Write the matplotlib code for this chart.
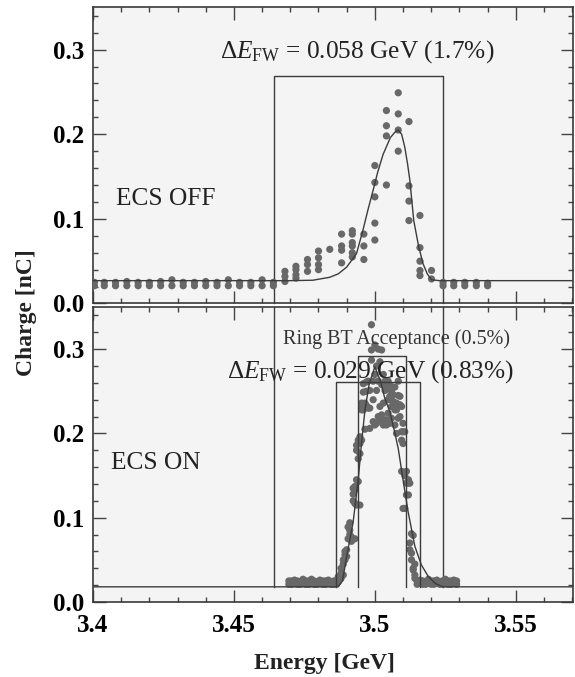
import matplotlib
matplotlib.use("Agg")
import matplotlib.pyplot as plt
from matplotlib.ticker import FixedLocator, MultipleLocator

plt.rcParams['font.family'] = ['Liberation Serif', 'DejaVu Serif']
plt.rcParams['mathtext.fontset'] = 'custom'
plt.rcParams['mathtext.rm'] = 'Liberation Serif'
plt.rcParams['mathtext.it'] = 'Liberation Serif:italic'
plt.rcParams['mathtext.bf'] = 'Liberation Serif:bold'

# ---------------- data ----------------
x_ticks = [3.40, 3.45, 3.50, 3.55]
x_tick_labels = ["3.4", "3.45", "3.5", "3.55"]
y_ticks = [0.0, 0.1, 0.2, 0.3]
y_tick_labels = ["0.0", "0.1", "0.2", "0.3"]

# ECS OFF measured charge: energy columns and charges at each column
off_energy = [3.4005, 3.4040, 3.4080, 3.4120, 3.4160, 3.4200, 3.4240, 3.4280,
              3.4320, 3.4360, 3.4400, 3.4440, 3.4480, 3.4520, 3.4560, 3.4600,
              3.4640, 3.4681, 3.4720, 3.4761, 3.4800, 3.4840, 3.4882, 3.4920,
              3.4961, 3.5000, 3.5041, 3.5083, 3.5121, 3.5160, 3.5201, 3.5242,
              3.5280, 3.5319, 3.5360, 3.5400]
off_charge = [[0.021, 0.025], [0.021, 0.025], [0.021, 0.025], [0.021, 0.026],
              [0.021, 0.025], [0.021, 0.025], [0.021, 0.026], [0.021, 0.028],
              [0.021, 0.025], [0.021, 0.025], [0.021, 0.026], [0.021, 0.025],
              [0.021, 0.028], [0.021, 0.025], [0.021, 0.025], [0.021, 0.028],
              [0.021, 0.025], [0.026, 0.032, 0.038], [0.030, 0.034, 0.040, 0.044],
              [0.038, 0.046, 0.052], [0.040, 0.046, 0.054, 0.062], [0.064],
              [0.048, 0.063, 0.068, 0.082], [0.055, 0.060, 0.068, 0.072, 0.082, 0.086],
              [0.052, 0.068, 0.082], [0.075, 0.095, 0.126, 0.143, 0.163],
              [0.140, 0.198, 0.210, 0.228], [0.180, 0.205, 0.224, 0.249],
              [0.098, 0.121, 0.139, 0.215], [0.033, 0.039, 0.050, 0.066, 0.104],
              [0.029, 0.039], [0.021, 0.025], [0.021, 0.025], [0.021, 0.025],
              [0.021, 0.025], [0.021, 0.024]]

# ECS OFF fitted curve
off_fit_energy = [3.400, 3.470, 3.478, 3.484, 3.487, 3.490, 3.4935, 3.4958,
                  3.4975, 3.4994, 3.5010, 3.5029, 3.5055, 3.5070, 3.5083,
                  3.5095, 3.5106, 3.5116, 3.5124, 3.5138, 3.5155, 3.5171,
                  3.5186, 3.5201, 3.5230, 3.570]
off_fit_charge = [0.027, 0.027, 0.0275, 0.031, 0.035, 0.043, 0.059, 0.087,
                  0.110, 0.134, 0.155, 0.176, 0.196, 0.202, 0.205,
                  0.200, 0.185, 0.165, 0.146, 0.098, 0.068, 0.047,
                  0.035, 0.028, 0.027, 0.027]

# ECS ON measured charge
on_energy = [3.4695, 3.4705, 3.4715, 3.4725, 3.4735, 3.4745, 3.4755, 3.4765,
             3.4775, 3.4785, 3.4795, 3.4805, 3.4815, 3.4825, 3.4835, 3.4845,
             3.4855, 3.4865,
             3.4870, 3.4880, 3.4888, 3.4894, 3.4900, 3.4905, 3.4911, 3.4917,
             3.4923, 3.4929, 3.4935, 3.4941, 3.4947, 3.4953, 3.4959,
             3.4965, 3.4970, 3.4976, 3.4982, 3.4988, 3.4994, 3.5000, 3.5006,
             3.5012, 3.5018, 3.5024, 3.5030, 3.5036, 3.5041, 3.5047, 3.5053,
             3.5059, 3.5065, 3.5071, 3.5077, 3.5083, 3.5089, 3.5095, 3.5100,
             3.5106, 3.5112, 3.5119, 3.5124, 3.5130, 3.5136, 3.5142,
             3.5150, 3.5160, 3.5170, 3.5180, 3.5190, 3.5200, 3.5210, 3.5220,
             3.5230, 3.5240, 3.5250, 3.5260, 3.5270, 3.5280, 3.5290]
on_charge = [[0.021, 0.025], [0.021, 0.025], [0.022, 0.026], [0.021, 0.025],
             [0.021, 0.024], [0.022, 0.027], [0.021, 0.025], [0.021, 0.025],
             [0.022, 0.027], [0.021, 0.025], [0.021, 0.024], [0.022, 0.026],
             [0.021, 0.025], [0.021, 0.025], [0.022, 0.026], [0.021, 0.024],
             [0.021, 0.025], [0.022, 0.026],
             [0.024, 0.030], [0.028, 0.034, 0.040], [0.032, 0.045, 0.050],
             [0.050, 0.056, 0.060], [0.054, 0.062], [0.075, 0.089],
             [0.080, 0.085, 0.094], [0.072, 0.077], [0.120, 0.128, 0.135],
             [0.075, 0.117, 0.133, 0.137], [0.115, 0.145, 0.180, 0.186],
             [0.143, 0.170, 0.192], [0.115, 0.176, 0.188, 0.196],
             [0.192, 0.228, 0.232, 0.236], [0.228, 0.249, 0.259],
             [0.205, 0.236], [0.233, 0.250, 0.261], [0.230, 0.262],
             [0.206, 0.230, 0.251], [0.287, 0.299, 0.329], [0.214, 0.240, 0.262],
             [0.210, 0.270, 0.305], [0.212, 0.251, 0.280], [0.220, 0.262, 0.300],
             [0.216, 0.232, 0.285], [0.222, 0.258, 0.299], [0.210, 0.236, 0.270],
             [0.216, 0.251, 0.262], [0.210, 0.216, 0.255],
             [0.224, 0.240, 0.262], [0.212, 0.244, 0.258], [0.218, 0.232, 0.250],
             [0.232, 0.238, 0.246], [0.210, 0.228, 0.255], [0.200, 0.228, 0.236],
             [0.218, 0.245, 0.262], [0.220, 0.234, 0.244], [0.155, 0.192, 0.202, 0.232],
             [0.111, 0.188, 0.202, 0.212], [0.111, 0.150, 0.202], [0.127, 0.141, 0.155],
             [0.127, 0.141, 0.145], [0.062, 0.070, 0.141], [0.050, 0.058, 0.081],
             [0.038, 0.040, 0.079], [0.028, 0.032, 0.045],
             [0.021, 0.025], [0.022, 0.026], [0.021, 0.025], [0.021, 0.024],
             [0.022, 0.027], [0.021, 0.025], [0.021, 0.025], [0.022, 0.026],
             [0.021, 0.024], [0.021, 0.025], [0.022, 0.027], [0.021, 0.025],
             [0.021, 0.025], [0.022, 0.026], [0.021, 0.025]]

# ECS ON fitted curve
on_fit_energy = [3.400, 3.4870, 3.4885, 3.4900, 3.4923, 3.4941, 3.4953, 3.4965,
                 3.4980, 3.5000, 3.5020, 3.5035, 3.5053, 3.5070, 3.5083,
                 3.5100, 3.5118, 3.5142, 3.5165, 3.5190, 3.5215, 3.5240, 3.570]
on_fit_charge = [0.018, 0.018, 0.025, 0.054, 0.095, 0.145, 0.190, 0.228,
                 0.259, 0.279, 0.262, 0.242, 0.226, 0.202, 0.182,
                 0.145, 0.107, 0.066, 0.044, 0.030, 0.022, 0.018, 0.018]

# annotation values
off_fw = [3.4641, 3.5242]
off_fw_bar = 0.269
on_fw = [3.4862, 3.5160]
on_fw_bar = 0.261
ring_bt = [3.4941, 3.5111]
ring_bt_bar = 0.292
on_base = 0.018

# ---------------- figure ----------------
W, H = 575, 677
fig = plt.figure(figsize=(W / 100, H / 100), dpi=100)
fig.patch.set_facecolor('white')

left = 93 / W
width = (573 - 93) / W
ax1 = fig.add_axes([left, 1 - 303.5 / H, width, (303.5 - 7.3) / H])
ax2 = fig.add_axes([left, 1 - 602 / H, width, (602 - 307) / H])

line_col = '#3c3c3c'
dot_col = '#686868'
tick_fs = 18
txt_fs = 18.3

for ax in (ax1, ax2):
    ax.set_facecolor('#f4f4f4')
    ax.set_xlim(3.4, 3.5703)
    ax.set_ylim(0, 0.35)
    ax.xaxis.set_major_locator(FixedLocator(x_ticks))
    ax.xaxis.set_minor_locator(MultipleLocator(0.01))
    ax.yaxis.set_major_locator(FixedLocator(y_ticks))
    ax.yaxis.set_minor_locator(MultipleLocator(0.02))
    ax.set_yticklabels(y_tick_labels, fontsize=tick_fs, fontweight='bold')
    ax.tick_params(which='both', direction='in', top=True, right=True,
                   color='#444444', width=1.0)
    ax.tick_params(which='major', length=9)
    ax.tick_params(which='minor', length=3.5)
    ax.tick_params(axis='y', pad=6.5)
    for s in ax.spines.values():
        s.set_color('#3a3a3a')
        s.set_linewidth(1.2)

ax1.set_xticklabels([])
ax2.set_xticklabels(x_tick_labels, fontsize=tick_fs, fontweight='bold')
ax2.tick_params(axis='x', pad=9)

# ---- top panel: ECS OFF ----
xs = [e for e, qs in zip(off_energy, off_charge) for _ in qs]
ys = [q for qs in off_charge for q in qs]
ax1.scatter(xs, ys, s=27, color=dot_col, edgecolors='none', zorder=3)
ax1.plot(off_fit_energy, off_fit_charge, color=line_col, lw=1.0, zorder=4)
ax1.plot([off_fw[0], off_fw[0], off_fw[1], off_fw[1]],
         [0, off_fw_bar, off_fw_bar, 0], color=line_col, lw=1.0,
         zorder=2, clip_on=False)
ax1.text(3.4938, 0.298, r'$\Delta E_{\mathrm{FW}}$ = 0.058 GeV (1.7%)',
         ha='center', va='center', fontsize=txt_fs, color='#222222')
ax1.text(3.4083, 0.124, 'ECS OFF', ha='left', va='center', fontsize=txt_fs,
         color='#222222')

# ---- bottom panel: ECS ON ----
xs = [e for e, qs in zip(on_energy, on_charge) for _ in qs]
ys = [q for qs in on_charge for q in qs]
ax2.scatter(xs, ys, s=27, color=dot_col, edgecolors='none', zorder=3)
ax2.plot(on_fit_energy, on_fit_charge, color=line_col, lw=1.0, zorder=4)
for e in off_fw:
    ax2.plot([e, e], [on_base, 0.35], color=line_col, lw=1.0, zorder=2)
ax2.plot([on_fw[0], on_fw[0], on_fw[1], on_fw[1]],
         [on_base, on_fw_bar, on_fw_bar, on_base], color=line_col, lw=1.0, zorder=4)
ax2.plot([ring_bt[0], ring_bt[0], ring_bt[1], ring_bt[1]],
         [on_base, ring_bt_bar, ring_bt_bar, on_base], color=line_col, lw=1.0, zorder=4)
ax2.text(3.5078, 0.3116, 'Ring BT Acceptance (0.5%)', ha='center', va='center',
         fontsize=14.5, color='#333333', zorder=5)
ax2.text(3.4986, 0.273, r'$\Delta E_{\mathrm{FW}}$ = 0.029 GeV (0.83%)',
         ha='center', va='center', fontsize=txt_fs, color='#222222', zorder=5)
ax2.text(3.4064, 0.1645, 'ECS ON', ha='left', va='center', fontsize=txt_fs,
         color='#222222')

fig.text(27 / W, 1 - 313 / H, 'Charge [nC]', rotation=90, ha='center',
         va='center', fontsize=17, fontweight='bold', color='#222222')
fig.text(324 / W, 1 - 663 / H, 'Energy [GeV]', ha='center', va='center',
         fontsize=17, fontweight='bold', color='#222222')

fig.savefig('out.png', dpi=100, facecolor='white')
